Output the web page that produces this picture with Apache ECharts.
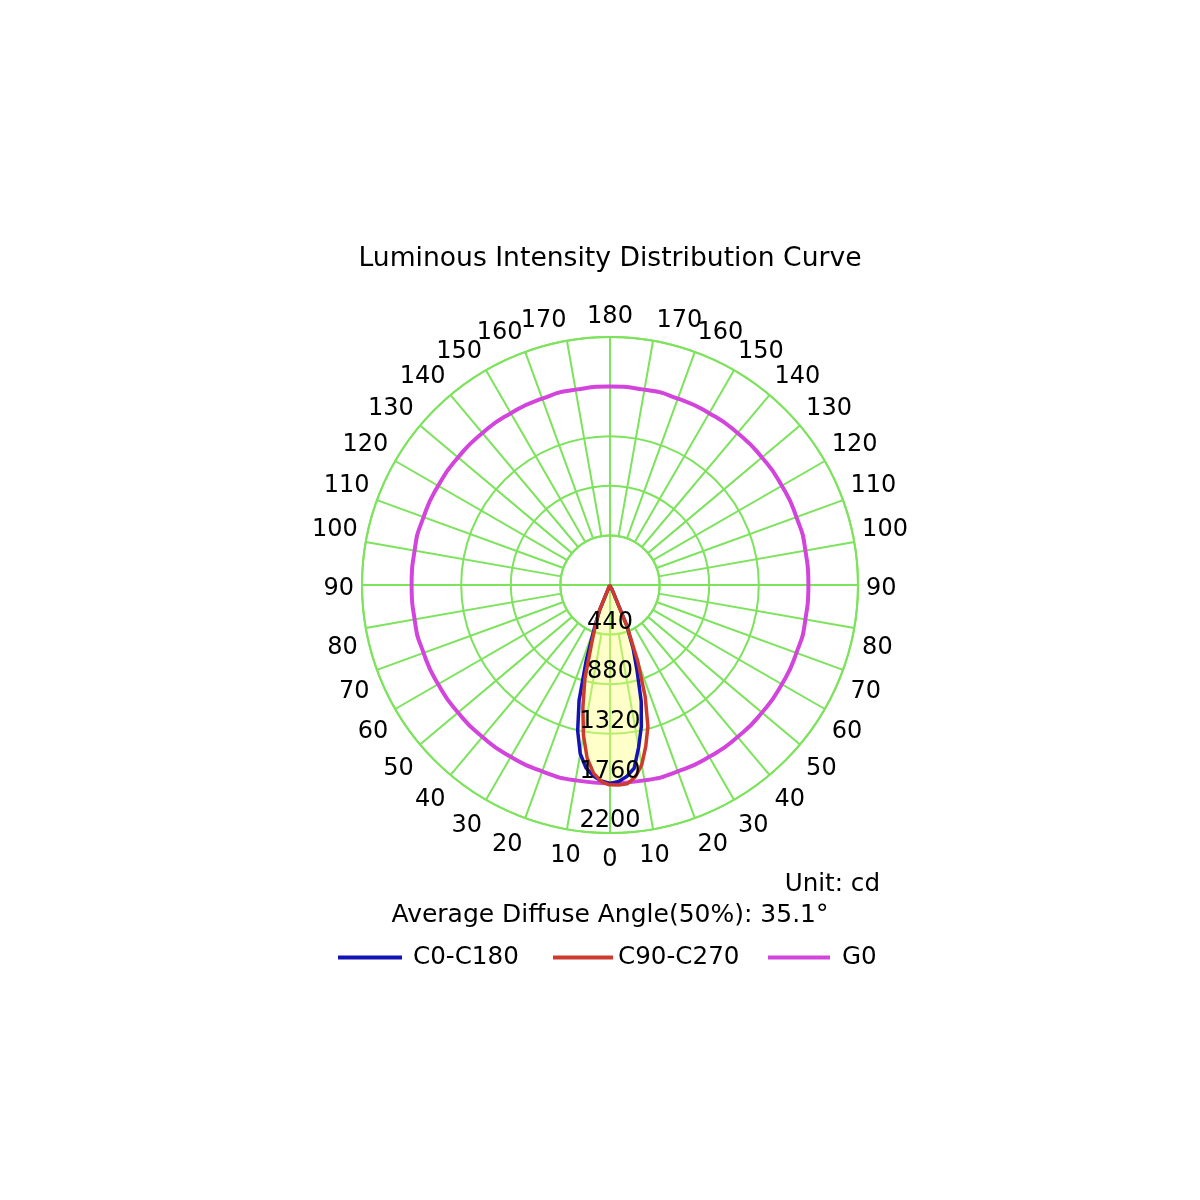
<!DOCTYPE html>
<html>
<head>
<meta charset="utf-8">
<title>Luminous Intensity Distribution Curve</title>
<style>
  html, body { margin: 0; padding: 0; background: #fff; }
  #chart { width: 1200px; height: 1200px; }
</style>
<script src="https://cdn.jsdelivr.net/npm/echarts@6/dist/echarts.min.js"></script>
</head>
<body>
<div id="chart"></div>
<script>
// gamma angles (deg from nadir) used by every half plane
const gammaAngles = [0, 2.5, 5, 7.5, 10, 12.5, 15, 17.5, 20, 22.5, 25, 30, 40, 60, 90, 120, 150, 180];

// intensities in cd
const c0Values   = [1760, 1740, 1700, 1635, 1520, 1325, 1060, 700, 400, 240, 30, 5, 0, 0, 0, 0, 0, 0];  // blue, left half
const c180Values = [1760, 1745, 1705, 1640, 1462, 1285, 1070, 800, 600, 390, 40, 5, 0, 0, 0, 0, 0, 0];  // blue, right half
const c270Values = [1775, 1745, 1675, 1550, 1355, 1112, 860, 540, 370, 250, 40, 5, 0, 0, 0, 0, 0, 0];   // red, left half
const c90Values  = [1772, 1776, 1770, 1718, 1620, 1466, 1300, 1040, 720, 390, 40, 5, 0, 0, 0, 0, 0, 0]; // red, right half

const g0Angles = [0, 10, 20, 30, 40, 50, 60, 70, 80, 90, 100, 110, 120, 130, 140, 150, 160, 170, 180,
                  190, 200, 210, 220, 230, 240, 250, 260, 270, 280, 290, 300, 310, 320, 330, 340, 350, 360];
const g0Intensity = 1760;

const radiusMax      = 2200;
const radiusInterval = 440;
const angleInterval  = 10;

const GREEN   = "#7de35c";
const BLUE    = "#1414b4";
const RED     = "#cf3a2e";
const MAGENTA = "#d244dc";
const FONT    = "DejaVu Sans";

const center = [610, 585];
const outerR = 248;
const innerR = outerR * radiusInterval / radiusMax;

// left half goes up from nadir (angle = gamma), right half comes back down (angle = 360 - gamma)
function planePair(leftValues, rightValues) {
  const points = [];
  for (let i = 0; i < gammaAngles.length; i++) {
    points.push([leftValues[i], gammaAngles[i]]);
  }
  for (let i = gammaAngles.length - 1; i >= 0; i--) {
    points.push([rightValues[i], 360 - gammaAngles[i]]);
  }
  return points;
}

// the original nudges a few of the angle labels away from where echarts puts them
function angleLabel(value) {
  const g = value <= 180 ? value : 360 - value;
  let style = null;
  if (g <= 70) style = "dn";
  else if (g === 80) style = "d80";
  else if (g === 90) style = "d90";
  else if (g === 100) style = "u100";
  else if (g === 170) style = value <= 180 ? "sl" : "sr";
  return style ? `{${style}|${g}}` : String(g);
}

function labelFont(padding) {
  return { fontSize: 24, color: "#000", fontFamily: FONT, padding: padding };
}

function legendFor(name, left, width, gap) {
  return {
    data: [name],
    left: left,
    top: 945,
    padding: 0,
    icon: "rect",
    itemWidth: width,
    itemHeight: 4,
    selectedMode: false,
    textStyle: { fontSize: 24.6, color: "#000", fontFamily: FONT, padding: [0, 0, 0, gap] },
  };
}

const chart = echarts.init(document.getElementById("chart"));

chart.setOption({
  animation: false,
  backgroundColor: "#fff",
  title: [
    {
      text: "Luminous Intensity Distribution Curve",
      left: 610, top: 246, textAlign: "center", padding: 0,
      textStyle: { fontSize: 26.6, fontWeight: "normal", color: "#000", fontFamily: FONT },
    },
    {
      text: "Unit: cd",
      left: 880, top: 872, textAlign: "right", padding: 0,
      textStyle: { fontSize: 24.6, fontWeight: "normal", color: "#000", fontFamily: FONT },
    },
    {
      text: "Average Diffuse Angle(50%): 35.1°",
      left: 610, top: 903, textAlign: "center", padding: 0,
      textStyle: { fontSize: 25, fontWeight: "normal", color: "#000", fontFamily: FONT },
    },
  ],
  legend: [
    legendFor("C0-C180", 338, 64, 6),
    legendFor("C90-C270", 553, 60, 0),
    legendFor("G0", 768, 62, 7),
  ],
  polar: [
    { center: center, radius: [innerR, outerR] }, // 10 degree spokes
    { center: center, radius: [0, outerR] },      // data, rings, main spokes
    { center: center, radius: [0, outerR] },      // radius labels on top
  ],
  angleAxis: [
    {
      polarIndex: 0, type: "value", min: 0, max: 360, interval: angleInterval,
      startAngle: 270, clockwise: true,
      axisLine: { show: true, lineStyle: { color: GREEN, width: 2 } },
      axisTick: { show: false },
      axisLabel: {
        fontSize: 24, color: "#000", fontFamily: FONT, margin: 8, formatter: angleLabel,
        rich: {
          dn:   labelFont([7, 0, 0, 0]),
          d80:  labelFont([36, 0, 0, 0]),
          d90:  labelFont([8, 0, 0, 0]),
          u100: labelFont([0, 0, 22, 0]),
          sl:   labelFont([0, 44, 0, 0]),
          sr:   labelFont([0, 0, 0, 50]),
        },
      },
      splitLine: { show: true, lineStyle: { color: GREEN, width: 2 } },
    },
    {
      polarIndex: 1, type: "value", min: 0, max: 360, interval: 90,
      startAngle: 270, clockwise: true,
      axisLine: { show: false }, axisTick: { show: false }, axisLabel: { show: false },
      splitLine: { show: true, lineStyle: { color: GREEN, width: 2 } },
    },
    {
      polarIndex: 2, type: "value", min: 0, max: 360, startAngle: 270, show: false,
    },
  ],
  radiusAxis: [
    { polarIndex: 0, type: "value", min: 0, max: radiusMax, show: false },
    {
      polarIndex: 1, type: "value", min: 0, max: radiusMax, interval: radiusInterval,
      axisLine: { show: false }, axisTick: { show: false }, axisLabel: { show: false },
      splitLine: { show: true, lineStyle: { color: GREEN, width: 2 } },
    },
    {
      polarIndex: 2, type: "value", min: 0, max: radiusMax, interval: radiusInterval, z: 10,
      axisLine: { show: false }, axisTick: { show: false }, splitLine: { show: false },
      axisLabel: {
        margin: 0, align: "center", verticalAlign: "bottom", showMinLabel: false,
        fontSize: 24, color: "#000", fontFamily: FONT,
        formatter: (v) => String(v),
      },
    },
  ],
  series: [
    {
      name: "G0", type: "line", coordinateSystem: "polar", polarIndex: 1,
      data: g0Angles.map((a) => [g0Intensity, a]),
      symbol: "none", silent: true, smooth: 0.6,
      lineStyle: { color: MAGENTA, width: 4 }, itemStyle: { color: MAGENTA },
    },
    {
      name: "C0-C180", type: "line", coordinateSystem: "polar", polarIndex: 1,
      data: planePair(c0Values, c180Values),
      symbol: "none", silent: true,
      lineStyle: { color: BLUE, width: 3.5 }, itemStyle: { color: BLUE },
      areaStyle: { color: "#ffff80", opacity: 0.24 },
    },
    {
      name: "C90-C270", type: "line", coordinateSystem: "polar", polarIndex: 1,
      data: planePair(c270Values, c90Values),
      symbol: "none", silent: true,
      lineStyle: { color: RED, width: 3.5 }, itemStyle: { color: RED },
      areaStyle: { color: "#ffff80", opacity: 0.24 },
    },
  ],
});

window.addEventListener("resize", () => {
  chart.resize();
});
</script>
</body>
</html>
